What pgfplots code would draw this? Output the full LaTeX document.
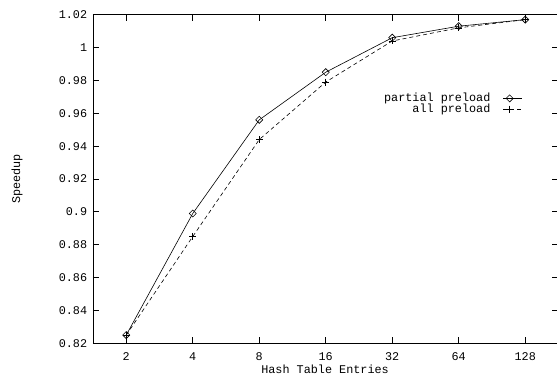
\documentclass[border=0pt]{standalone}
\usepackage{pgfplots}
\pgfplotsset{compat=1.18}
\usepackage{fontspec}
\setmainfont{Liberation Mono}

% speedup measurements, one table per series
\pgfplotstableread{
entries speedup
2   0.825
4   0.899
8   0.956
16  0.985
32  1.006
64  1.013
128 1.017
}\partialpreload
\pgfplotstableread{
entries speedup
2   0.825
4   0.885
8   0.944
16  0.979
32  1.004
64  1.012
128 1.017
}\allpreload

\begin{document}
\begin{tikzpicture}
\path[use as bounding box] (-93bp,-32.7bp) rectangle (464bp,343.3bp);
\clip (-93bp,-32.7bp) rectangle (464bp,343.3bp);
\begin{axis}[
  at={(0,0)}, anchor=south west,
  scale only axis, width=465.5bp, height=328.6bp,
  font=\fontsize{11.8bp}{13bp}\selectfont,
  xmode=log, log basis x=2,
  xmin=1.41421, xmax=181.019,
  ymin=0.82, ymax=1.02,
  xtick={2,4,8,16,32,64,128},
  xticklabels={2,4,8,16,32,64,128},
  ytick={0.82,0.84,0.86,0.88,0.90,0.92,0.94,0.96,0.98,1.00,1.02},
  yticklabels={0.82,0.84,0.86,0.88,0.9,0.92,0.94,0.96,0.98,1,1.02},
  /pgf/number format/assume math mode=true,
  tick align=inside,
  major tick length=6.5bp,
  minor tick num=0,
  axis line style={line width=0.8bp},
  every tick/.style={line width=0.8bp, black},
  xticklabel style={anchor=center, inner sep=0pt, yshift=-13.4bp},
  yticklabel style={anchor=east, inner sep=0pt, xshift=-5.7bp},
  xlabel={Hash Table Entries},
  ylabel={Speedup},
  xlabel style={at={(axis description cs:0.4985,-0.0782)}, anchor=center, inner sep=0pt},
  ylabel style={at={(axis description cs:-0.1633,0.5)}, anchor=center, inner sep=0pt},
  legend plot pos=right,
  legend cell align=right,
  legend image code/.code={
    \draw[#1, mark=none] (0bp,0bp) -- (19bp,0bp);
    \draw[#1, solid] plot[only marks] coordinates {(6.5bp,0bp)};
  },
  legend style={
    at={(0.923,0.729)}, anchor=east,
    draw=none, fill=none, inner sep=0pt,
    column sep=12.5bp, row sep=0pt,
    nodes={inner sep=0pt, text height=8.3bp, text depth=2.4bp},
  },
]
\addplot[black, line width=0.6bp, mark=square, mark size=2.5bp,
  mark options={rotate=45, solid, line width=0.6bp}]
  table[x=entries, y=speedup] {\partialpreload};
\addlegendentry{partial preload}
\addplot[black, line width=0.6bp, dash pattern=on 4bp off 3bp, mark=+, mark size=3.5bp,
  mark options={solid, line width=0.6bp}]
  table[x=entries, y=speedup] {\allpreload};
\addlegendentry{all preload}
\end{axis}
\end{tikzpicture}
\end{document}
